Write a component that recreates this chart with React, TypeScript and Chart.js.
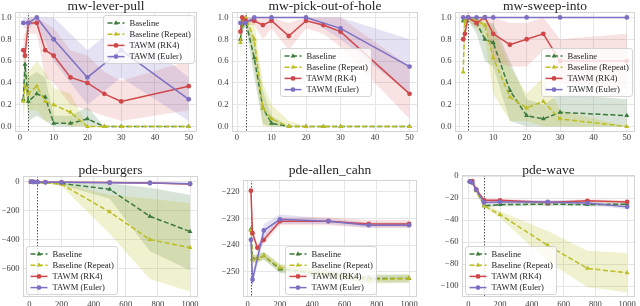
import React, { useEffect, useRef } from 'react';
import { Chart, registerables } from 'chart.js';

Chart.register(...registerables);

const SERIF = '"Liberation Serif", "Times New Roman", Times, serif';

const SERIES_LABELS = ['Baseline', 'Baseline (Repeat)', 'TAWM (RK4)', 'TAWM (Euler)'];
const COLORS = ['#3b7a3b', '#bcbd22', '#d0474a', '#7d70c2'];
const BANDS = ['rgba(59,122,59,0.2)', 'rgba(188,189,34,0.22)', 'rgba(214,60,60,0.15)', 'rgba(125,112,194,0.2)'];

// ---------------- Meta-World (top row) ----------------
const MW_X = [1, 1.5, 2.5, 5, 7.5, 10, 15, 20, 25, 30, 50];
const MW_X_TICKS = [0, 10, 20, 30, 40, 50];
const MW_Y_TICKS = [0, 0.2, 0.4, 0.6, 0.8, 1.0];
const MW_VLINE = 2.5;

// mw-lever-pull
const LEVER_BASE = [0.25, 0.57, 0.23, 0.30, 0.27, 0.03, 0.03, 0.07, 0.0, 0.0, 0.0];
const LEVER_BASE_LO = [0.05, 0.45, 0.05, 0.10, 0.05, 0.0, 0.0, 0.0, 0.0, 0.0, 0.0];
const LEVER_BASE_HI = [0.45, 0.65, 0.45, 0.50, 0.45, 0.10, 0.10, 0.18, 0.0, 0.0, 0.0];
const LEVER_REP = [0.23, 0.37, 0.30, 0.37, 0.23, 0.20, 0.13, 0.0, 0.0, 0.0, 0.0];
const LEVER_REP_LO = [0.0, 0.25, 0.15, 0.15, 0.05, 0.05, 0.0, 0.0, 0.0, 0.0, 0.0];
const LEVER_REP_HI = [0.45, 0.50, 0.50, 0.60, 0.50, 0.35, 0.30, 0.0, 0.0, 0.0, 0.0];
const LEVER_RK4 = [0.70, 0.65, 0.95, 0.95, 0.70, 0.65, 0.45, 0.40, 0.30, 0.23, 0.37];
const LEVER_RK4_LO = [0.55, 0.45, 0.85, 0.85, 0.45, 0.40, 0.20, 0.15, 0.10, 0.05, 0.15];
const LEVER_RK4_HI = [0.85, 0.85, 1.0, 1.0, 0.95, 0.90, 0.70, 0.65, 0.50, 0.42, 0.60];
const LEVER_EUL = [0.95, null, 0.95, 1.0, null, 0.80, null, 0.45, null, 0.70, 0.25];
const LEVER_EUL_LO = [0.90, null, 0.90, 0.95, null, 0.60, null, 0.20, null, 0.45, 0.05];
const LEVER_EUL_HI = [1.0, null, 1.0, 1.0, null, 1.0, null, 0.70, null, 0.95, 0.45];

// mw-pick-out-of-hole
const PICK_BASE = [0.80, 0.93, 0.97, 0.63, 0.17, 0.03, 0.0, 0.0, 0.0, 0.0, 0.0];
const PICK_BASE_LO = [0.65, 0.85, 0.93, 0.45, 0.02, 0.0, 0.0, 0.0, 0.0, 0.0, 0.0];
const PICK_BASE_HI = [0.95, 1.0, 1.0, 0.80, 0.33, 0.10, 0.0, 0.0, 0.0, 0.0, 0.0];
const PICK_REP = [0.77, 0.97, 1.0, 0.80, 0.17, 0.07, 0.0, 0.0, 0.0, 0.0, 0.0];
const PICK_REP_LO = [0.60, 0.90, 0.97, 0.55, 0.0, 0.0, 0.0, 0.0, 0.0, 0.0, 0.0];
const PICK_REP_HI = [0.93, 1.0, 1.0, 0.95, 0.40, 0.20, 0.05, 0.0, 0.0, 0.0, 0.0];
const PICK_RK4 = [0.87, 1.0, 0.97, 0.97, 0.93, 0.97, 0.83, 0.97, 0.93, 0.87, 0.30];
const PICK_RK4_LO = [0.80, 1.0, 0.93, 0.93, 0.80, 0.90, 0.70, 0.90, 0.85, 0.73, 0.07];
const PICK_RK4_HI = [0.93, 1.0, 1.0, 1.0, 1.0, 1.0, 0.95, 1.0, 1.0, 1.0, 0.55];
const PICK_EUL = [0.95, null, 0.95, 1.0, null, 1.0, null, 1.0, null, 0.90, 0.55];
const PICK_EUL_LO = [0.90, null, 0.90, 1.0, null, 1.0, null, 1.0, null, 0.80, 0.30];
const PICK_EUL_HI = [1.0, null, 1.0, 1.0, null, 1.0, null, 1.0, null, 1.0, 0.80];

// mw-sweep-into
const SWEEP_BASE = [0.97, 0.97, 1.0, 0.95, 0.80, 0.77, 0.33, 0.10, 0.07, 0.13, 0.10];
const SWEEP_BASE_LO = [0.90, 0.90, 0.97, 0.85, 0.60, 0.55, 0.05, 0.0, 0.0, 0.0, 0.0];
const SWEEP_BASE_HI = [1.0, 1.0, 1.0, 1.0, 0.95, 0.95, 0.60, 0.25, 0.20, 0.30, 0.25];
const SWEEP_REP = [0.50, 0.97, 1.0, 0.97, 0.93, 0.63, 0.27, 0.17, 0.23, 0.07, 0.0];
const SWEEP_REP_LO = [0.25, 0.90, 0.97, 0.90, 0.80, 0.30, 0.05, 0.05, 0.0, 0.0, 0.0];
const SWEEP_REP_HI = [0.75, 1.0, 1.0, 1.0, 1.0, 0.90, 0.55, 0.30, 0.45, 0.15, 0.0];
const SWEEP_RK4 = [0.80, 0.85, 1.0, 0.95, 1.0, 0.85, 0.75, 0.80, 0.85, 0.60, 0.60];
const SWEEP_RK4_LO = [0.70, 0.75, 0.97, 0.90, 0.97, 0.60, 0.55, 0.55, 0.70, 0.40, 0.35];
const SWEEP_RK4_HI = [0.90, 0.95, 1.0, 1.0, 1.0, 1.0, 0.95, 0.95, 1.0, 0.80, 0.85];
const SWEEP_EUL = [1.0, null, 1.0, 1.0, 1.0, 1.0, null, 1.0, null, 1.0, 1.0];
const SWEEP_EUL_LO = [1.0, null, 1.0, 1.0, 1.0, 1.0, null, 1.0, null, 1.0, 1.0];
const SWEEP_EUL_HI = [1.0, null, 1.0, 1.0, 1.0, 1.0, null, 1.0, null, 1.0, 1.0];

// ---------------- PDE (bottom row) ----------------
const PDE_X_TICKS = [0, 200, 400, 600, 800, 1000];

// pde-burgers
const BURG_X = [10, 25, 50, 100, 200, 500, 750, 1000];
const BURG_Y_TICKS = [0, -200, -400, -600];
const BURG_VLINE = 50;
const BURG_BASE = [-5, -5, -8, -10, -15, -55, -240, -345];
const BURG_BASE_LO = [-7, -7, -10, -13, -25, -120, -480, -610];
const BURG_BASE_HI = [-3, -3, -6, -7, -8, -15, -45, -95];
const BURG_REP = [-5, -5, -8, -10, -20, -210, -400, -455];
const BURG_REP_LO = [-7, -7, -10, -14, -35, -360, -670, -755];
const BURG_REP_HI = [-3, -3, -6, -7, -10, -95, -120, -150];
const BURG_RK4 = [-4, -4, -5, -6, -7, -9, -12, -18];
const BURG_RK4_LO = [-6, -6, -7, -8, -9, -12, -16, -24];
const BURG_RK4_HI = [-2, -2, -3, -4, -5, -6, -8, -12];
const BURG_EUL = [-3, -5, -6, -7, -7, -10, -12, -17];
const BURG_EUL_LO = [-5, -7, -8, -9, -9, -13, -16, -23];
const BURG_EUL_HI = [-1, -3, -4, -5, -5, -7, -8, -11];

// pde-allen_cahn
const AC_X = [20, 30, 60, 100, 200, 500, 750, 1000];
const AC_Y_TICKS = [-220, -230, -240, -250];
const AC_VLINE = 20;
const AC_BASE = [-234, -245, -245, -244, -249, -251, -252.5, -252.5];
const AC_BASE_LO = [-235.5, -246.5, -246.5, -245.5, -250.5, -252.5, -254, -254];
const AC_BASE_HI = [-232.5, -243.5, -243.5, -242.5, -247.5, -249.5, -251, -251];
const AC_REP = [-234.5, -245.5, -245, -244, -248.5, -251, -253, -252.5];
const AC_REP_LO = [-236, -247, -246.5, -245.5, -250, -252.5, -254.5, -254];
const AC_REP_HI = [-233, -244, -243.5, -242.5, -247, -249.5, -251.5, -251];
const AC_RK4 = [-219.5, -235.5, -241, -238, -231, -231, -232, -232];
const AC_RK4_LO = [-221, -237, -242.5, -239.5, -232.5, -232.5, -233.5, -233.5];
const AC_RK4_HI = [-218, -234, -239.5, -236.5, -229.5, -229.5, -230.5, -230.5];
const AC_EUL = [-238, -253, null, -234.5, -230.3, -231, -232.5, -232.5];
const AC_EUL_LO = [-240, -255.5, null, -237, -232, -232, -233.5, -233.5];
const AC_EUL_HI = [-236, -250.5, null, -232, -228.5, -230, -231.5, -231.5];

// pde-wave
const WAVE_X = [10, 25, 50, 100, 200, 500, 750, 1000];
const WAVE_Y_TICKS = [0, -20, -40, -60, -80, -100];
const WAVE_VLINE = 100;
const WAVE_BASE = [-5, -6, -13, -27, -26, -25.5, -26, -25.5];
const WAVE_BASE_LO = [-6.5, -7.5, -14.5, -28.5, -27.5, -27, -27.5, -27];
const WAVE_BASE_HI = [-3.5, -4.5, -11.5, -25.5, -24.5, -24, -24.5, -24];
const WAVE_REP = [-5, -6, -13.5, -27, -35, -63, -84, -88];
const WAVE_REP_LO = [-6.5, -7.5, -15, -29, -38, -78, -101, -106];
const WAVE_REP_HI = [-3.5, -4.5, -12, -25, -32, -50, -68, -70];
const WAVE_RK4 = [-5, -4.5, -12, -22, -22, -24, -22.5, -23.5];
const WAVE_RK4_LO = [-6.5, -6, -13.5, -23.5, -23.5, -25.5, -24, -25];
const WAVE_RK4_HI = [-3.5, -3, -10.5, -20.5, -20.5, -22.5, -21, -22];
const WAVE_EUL = [-5, -6, -12.5, -24, -23.5, -23.5, -24.5, -28];
const WAVE_EUL_LO = [-6.5, -7.5, -14, -25.5, -25, -25, -26.5, -30];
const WAVE_EUL_HI = [-3.5, -4.5, -11, -22.5, -22, -22, -22.5, -26];

type Arr = (number | null)[];
type Series = { mean: Arr; lo: Arr; hi: Arr };
type PanelDef = {
  title: string;
  x: number[];
  series: Series[];
  xTicks: number[];
  yTicks: number[];
  vline: number;
  yFmt: (v: number) => string;
};

const fmt1 = (v: number) => v.toFixed(1);
const fmtInt = (v: number) => (v < 0 ? '\u2212' + Math.abs(v) : String(v));

const PANELS: PanelDef[] = [
  {
    title: 'mw-lever-pull', x: MW_X, xTicks: MW_X_TICKS, yTicks: MW_Y_TICKS, vline: MW_VLINE, yFmt: fmt1,
    series: [
      { mean: LEVER_BASE, lo: LEVER_BASE_LO, hi: LEVER_BASE_HI },
      { mean: LEVER_REP, lo: LEVER_REP_LO, hi: LEVER_REP_HI },
      { mean: LEVER_RK4, lo: LEVER_RK4_LO, hi: LEVER_RK4_HI },
      { mean: LEVER_EUL, lo: LEVER_EUL_LO, hi: LEVER_EUL_HI },
    ],
  },
  {
    title: 'mw-pick-out-of-hole', x: MW_X, xTicks: MW_X_TICKS, yTicks: MW_Y_TICKS, vline: MW_VLINE, yFmt: fmt1,
    series: [
      { mean: PICK_BASE, lo: PICK_BASE_LO, hi: PICK_BASE_HI },
      { mean: PICK_REP, lo: PICK_REP_LO, hi: PICK_REP_HI },
      { mean: PICK_RK4, lo: PICK_RK4_LO, hi: PICK_RK4_HI },
      { mean: PICK_EUL, lo: PICK_EUL_LO, hi: PICK_EUL_HI },
    ],
  },
  {
    title: 'mw-sweep-into', x: MW_X, xTicks: MW_X_TICKS, yTicks: MW_Y_TICKS, vline: MW_VLINE, yFmt: fmt1,
    series: [
      { mean: SWEEP_BASE, lo: SWEEP_BASE_LO, hi: SWEEP_BASE_HI },
      { mean: SWEEP_REP, lo: SWEEP_REP_LO, hi: SWEEP_REP_HI },
      { mean: SWEEP_RK4, lo: SWEEP_RK4_LO, hi: SWEEP_RK4_HI },
      { mean: SWEEP_EUL, lo: SWEEP_EUL_LO, hi: SWEEP_EUL_HI },
    ],
  },
  {
    title: 'pde-burgers', x: BURG_X, xTicks: PDE_X_TICKS, yTicks: BURG_Y_TICKS, vline: BURG_VLINE, yFmt: fmtInt,
    series: [
      { mean: BURG_BASE, lo: BURG_BASE_LO, hi: BURG_BASE_HI },
      { mean: BURG_REP, lo: BURG_REP_LO, hi: BURG_REP_HI },
      { mean: BURG_RK4, lo: BURG_RK4_LO, hi: BURG_RK4_HI },
      { mean: BURG_EUL, lo: BURG_EUL_LO, hi: BURG_EUL_HI },
    ],
  },
  {
    title: 'pde-allen_cahn', x: AC_X, xTicks: PDE_X_TICKS, yTicks: AC_Y_TICKS, vline: AC_VLINE, yFmt: fmtInt,
    series: [
      { mean: AC_BASE, lo: AC_BASE_LO, hi: AC_BASE_HI },
      { mean: AC_REP, lo: AC_REP_LO, hi: AC_REP_HI },
      { mean: AC_RK4, lo: AC_RK4_LO, hi: AC_RK4_HI },
      { mean: AC_EUL, lo: AC_EUL_LO, hi: AC_EUL_HI },
    ],
  },
  {
    title: 'pde-wave', x: WAVE_X, xTicks: PDE_X_TICKS, yTicks: WAVE_Y_TICKS, vline: WAVE_VLINE, yFmt: fmtInt,
    series: [
      { mean: WAVE_BASE, lo: WAVE_BASE_LO, hi: WAVE_BASE_HI },
      { mean: WAVE_REP, lo: WAVE_REP_LO, hi: WAVE_REP_HI },
      { mean: WAVE_RK4, lo: WAVE_RK4_LO, hi: WAVE_RK4_HI },
      { mean: WAVE_EUL, lo: WAVE_EUL_LO, hi: WAVE_EUL_HI },
    ],
  },
];

type Layout = {
  left: number; top: number; width: number; height: number;
  plot: { left: number; top: number; right: number; bottom: number };
  xMin: number; xMax: number; yMin: number; yMax: number;
  legend: string; titleY: number; xPad: number;
};

const LAYOUTS: Layout[] = [
  { left: 0, top: 0, width: 213, height: 150, plot: { left: 15, top: 12, right: 197, bottom: 132 }, xMin: -1.45, xMax: 52.45, yMin: -0.05, yMax: 1.05, legend: 'upper right', titleY: 9.5, xPad: 1 },
  { left: 213, top: 0, width: 213, height: 150, plot: { left: 232, top: 12, right: 418, bottom: 132 }, xMin: -1.45, xMax: 52.45, yMin: -0.05, yMax: 1.05, legend: 'center', titleY: 9.5, xPad: 1 },
  { left: 426, top: 0, width: 214, height: 150, plot: { left: 455, top: 12, right: 635, bottom: 132 }, xMin: -1.45, xMax: 52.45, yMin: -0.05, yMax: 1.05, legend: 'center right', titleY: 9.5, xPad: 1 },
  { left: 0, top: 150, width: 213, height: 156, plot: { left: 23, top: 176, right: 198, bottom: 297 }, xMin: -39.5, xMax: 1049.5, yMin: -793, yMax: 36, legend: 'lower left', titleY: 174, xPad: 3 },
  { left: 213, top: 150, width: 213, height: 156, plot: { left: 243, top: 180, right: 417, bottom: 297 }, xMin: -29, xMax: 1049, yMin: -259.5, yMax: -215.5, legend: 'lower center', titleY: 174, xPad: 3 },
  { left: 426, top: 150, width: 214, height: 156, plot: { left: 462, top: 175, right: 635, bottom: 297 }, xMin: -39.5, xMax: 1049.5, yMin: -110, yMax: 1, legend: 'lower left', titleY: 173.5, xPad: 3 },
];

function toPoints(xs: number[], ys: Arr) {
  const out: { x: number; y: number }[] = [];
  xs.forEach((x, i) => {
    const y = ys[i];
    if (y !== null && y !== undefined) out.push({ x, y });
  });
  return out;
}

function buildDatasets(p: PanelDef) {
  const ds: any[] = [];
  p.series.forEach((s, i) => {
    ds.push({
      label: '_hi' + i, data: toPoints(p.x, s.hi), borderWidth: 0, borderColor: 'rgba(0,0,0,0)',
      pointRadius: 0, fill: false, order: 20 - i,
    });
    ds.push({
      label: '_lo' + i, data: toPoints(p.x, s.lo), borderWidth: 0, borderColor: 'rgba(0,0,0,0)',
      pointRadius: 0, fill: '-1', backgroundColor: BANDS[i], order: 20 - i,
    });
  });
  p.series.forEach((s, i) => {
    const base = i < 2;
    ds.push({
      label: SERIES_LABELS[i], data: toPoints(p.x, s.mean), isLine: true,
      borderColor: COLORS[i], backgroundColor: COLORS[i], borderWidth: 1.5,
      borderDash: base ? [5, 2.5] : [], pointStyle: base ? 'triangle' : 'circle',
      pointRadius: base ? 2.8 : 2.4, pointBorderWidth: 0, pointBackgroundColor: COLORS[i],
      fill: false, order: 5 - i, tension: 0,
    });
  });
  return ds;
}

function drawMarker(ctx: CanvasRenderingContext2D, style: string, x: number, y: number, r: number) {
  ctx.beginPath();
  if (style === 'triangle') {
    ctx.moveTo(x, y - r);
    ctx.lineTo(x - r * 0.866, y + r * 0.5);
    ctx.lineTo(x + r * 0.866, y + r * 0.5);
    ctx.closePath();
  } else {
    ctx.arc(x, y, r, 0, Math.PI * 2);
  }
  ctx.fill();
}

const decorPlugin = {
  id: 'decor',
  beforeDatasetsDraw(chart: any, _args: any, opts: any) {
    const { ctx, chartArea: ca, scales } = chart;
    const px = scales.x.getPixelForValue(opts.vline);
    ctx.save();
    ctx.strokeStyle = 'rgba(30,30,30,0.75)';
    ctx.lineWidth = 1;
    ctx.setLineDash([1.5, 1.5]);
    ctx.beginPath();
    ctx.moveTo(Math.round(px) + 0.5, ca.top);
    ctx.lineTo(Math.round(px) + 0.5, ca.bottom);
    ctx.stroke();
    ctx.restore();
  },
  afterDraw(chart: any, _args: any, opts: any) {
    const { ctx, chartArea: ca } = chart;
    ctx.save();
    // frame
    ctx.strokeStyle = '#d4d4d4';
    ctx.lineWidth = 1;
    ctx.strokeRect(Math.round(ca.left) + 0.5, Math.round(ca.top) + 0.5, Math.round(ca.right - ca.left) - 1, Math.round(ca.bottom - ca.top) - 1);
    // title
    ctx.fillStyle = '#262626';
    ctx.font = `13.5px ${SERIF}`;
    ctx.textAlign = 'center';
    ctx.textBaseline = 'alphabetic';
    ctx.fillText(opts.title, (ca.left + ca.right) / 2, opts.titleY);
    // legend
    const items = chart.data.datasets.filter((d: any) => d.isLine);
    ctx.font = `8.6px ${SERIF}`;
    const tw = Math.max(...items.map((d: any) => ctx.measureText(d.label).width));
    const w = Math.round(26 + tw + 4);
    const h = 48;
    const pad = 3;
    const cx = (ca.left + ca.right) / 2;
    const cy = (ca.top + ca.bottom) / 2;
    let lx = ca.left + pad;
    let ly = ca.top + pad;
    switch (opts.legend) {
      case 'upper right': lx = ca.right - pad - w; ly = ca.top + pad; break;
      case 'center': lx = cx - w / 2; ly = cy - h / 2; break;
      case 'center right': lx = ca.right - pad - w; ly = cy - h / 2; break;
      case 'lower left': lx = ca.left + pad; ly = ca.bottom - pad - h; break;
      case 'lower center': lx = cx - w / 2; ly = ca.bottom - pad - h; break;
    }
    lx = Math.round(lx) + 0.5;
    ly = Math.round(ly) + 0.5;
    ctx.beginPath();
    const r = 2.5;
    ctx.moveTo(lx + r, ly);
    ctx.lineTo(lx + w - r, ly);
    ctx.arcTo(lx + w, ly, lx + w, ly + r, r);
    ctx.lineTo(lx + w, ly + h - r);
    ctx.arcTo(lx + w, ly + h, lx + w - r, ly + h, r);
    ctx.lineTo(lx + r, ly + h);
    ctx.arcTo(lx, ly + h, lx, ly + h - r, r);
    ctx.lineTo(lx, ly + r);
    ctx.arcTo(lx, ly, lx + r, ly, r);
    ctx.closePath();
    ctx.fillStyle = 'rgba(255,255,255,0.8)';
    ctx.fill();
    ctx.strokeStyle = '#cccccc';
    ctx.lineWidth = 0.8;
    ctx.stroke();
    items.forEach((d: any, i: number) => {
      const y = ly + 7.5 + i * 11.2;
      ctx.strokeStyle = d.borderColor;
      ctx.lineWidth = 1.5;
      ctx.setLineDash(d.borderDash || []);
      ctx.beginPath();
      ctx.moveTo(lx + 4, y);
      ctx.lineTo(lx + 21, y);
      ctx.stroke();
      ctx.setLineDash([]);
      ctx.fillStyle = d.borderColor;
      drawMarker(ctx, d.pointStyle, lx + 12.5, y, d.pointStyle === 'triangle' ? 2.8 : 2.4);
      ctx.fillStyle = '#262626';
      ctx.textAlign = 'left';
      ctx.textBaseline = 'middle';
      ctx.fillText(d.label, lx + 26, y + 0.5);
    });
    ctx.restore();
  },
};

function Panel({ def, lay }: { def: PanelDef; lay: Layout }) {
  const ref = useRef<HTMLCanvasElement>(null);
  useEffect(() => {
    if (!ref.current) return;
    const yAxisW = lay.plot.left - lay.left;
    const xAxisH = lay.top + lay.height - lay.plot.bottom;
    const chart = new Chart(ref.current, {
      type: 'line',
      data: { datasets: buildDatasets(def) },
      plugins: [decorPlugin as any],
      options: {
        animation: false,
        responsive: false,
        devicePixelRatio: 1,
        events: [],
        layout: {
          padding: {
            left: 0,
            top: lay.plot.top - lay.top,
            right: lay.left + lay.width - lay.plot.right,
            bottom: 0,
          },
        },
        elements: { line: { tension: 0 } },
        scales: {
          x: {
            type: 'linear',
            min: lay.xMin,
            max: lay.xMax,
            afterBuildTicks: (scale: any) => { scale.ticks = def.xTicks.map((v) => ({ value: v })); },
            afterFit: (scale: any) => {
              scale.height = xAxisH;
              scale.paddingLeft = 0; scale.paddingRight = 0; scale.paddingTop = 0; scale.paddingBottom = 0;
            },
            grid: { color: '#e6e6e6', lineWidth: 1, drawTicks: false },
            border: { display: false },
            ticks: {
              padding: lay.xPad, maxRotation: 0, autoSkip: false, color: '#3a3a3a',
              font: { family: SERIF, size: 8.6 },
              callback: (v: any) => String(v),
            },
          },
          y: {
            type: 'linear',
            min: lay.yMin,
            max: lay.yMax,
            afterBuildTicks: (scale: any) => { scale.ticks = def.yTicks.map((v) => ({ value: v })); },
            afterFit: (scale: any) => {
              scale.width = yAxisW;
              scale.paddingLeft = 0; scale.paddingRight = 0; scale.paddingTop = 0; scale.paddingBottom = 0;
            },
            grid: { color: '#e6e6e6', lineWidth: 1, drawTicks: false },
            border: { display: false },
            ticks: {
              padding: 3.5, autoSkip: false, color: '#3a3a3a',
              font: { family: SERIF, size: 8.6 },
              callback: (v: any) => def.yFmt(Number(v)),
            },
          },
        },
        plugins: {
          legend: { display: false },
          tooltip: { enabled: false },
          title: { display: false },
          decor: { title: def.title, vline: def.vline, legend: lay.legend, titleY: lay.titleY - lay.top },
        } as any,
      },
    });
    return () => chart.destroy();
  }, [def, lay]);
  return (
    <canvas
      ref={ref}
      width={lay.width}
      height={lay.height}
      style={{ position: 'absolute', left: lay.left, top: lay.top, width: lay.width, height: lay.height }}
    />
  );
}

export default function App() {
  return (
    <div style={{ position: 'absolute', left: 0, top: 0, width: 640, height: 306, background: '#ffffff', overflow: 'hidden' }}>
      {PANELS.map((p, i) => (
        <Panel key={p.title} def={p} lay={LAYOUTS[i]} />
      ))}
    </div>
  );
}
